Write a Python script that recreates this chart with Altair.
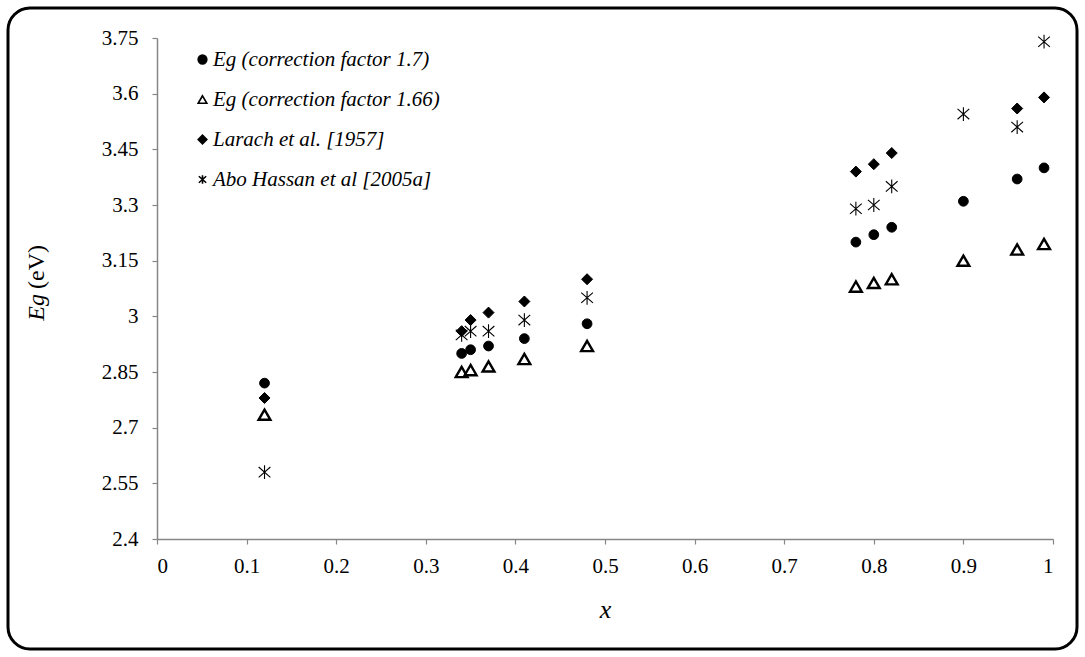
import altair as alt
import pandas as pd

# ---- data ----
series_names = [
    "Eg (correction factor 1.7)",
    "Eg (correction factor 1.66)",
    "Larach et al. [1957]",
    "Abo Hassan et al [2005a]",
]

x_eg17 = [0.12, 0.34, 0.35, 0.37, 0.41, 0.48, 0.78, 0.80, 0.82, 0.90, 0.96, 0.99]
y_eg17 = [2.82, 2.90, 2.91, 2.92, 2.94, 2.98, 3.20, 3.22, 3.24, 3.31, 3.37, 3.40]

x_eg166 = [0.12, 0.34, 0.35, 0.37, 0.41, 0.48, 0.78, 0.80, 0.82, 0.90, 0.96, 0.99]
y_eg166 = [2.735, 2.85, 2.855, 2.865, 2.885, 2.92, 3.08, 3.09, 3.10, 3.15, 3.18, 3.195]

x_larach = [0.12, 0.34, 0.35, 0.37, 0.41, 0.48, 0.78, 0.80, 0.82, 0.96, 0.99]
y_larach = [2.78, 2.96, 2.99, 3.01, 3.04, 3.10, 3.39, 3.41, 3.44, 3.56, 3.59]

x_abo = [0.12, 0.34, 0.35, 0.37, 0.41, 0.48, 0.78, 0.80, 0.82, 0.90, 0.96, 0.99]
y_abo = [2.58, 2.95, 2.96, 2.96, 2.99, 3.05, 3.29, 3.30, 3.35, 3.545, 3.51, 3.74]

x_ticks = [0, 0.1, 0.2, 0.3, 0.4, 0.5, 0.6, 0.7, 0.8, 0.9, 1]
y_ticks = [2.4, 2.55, 2.7, 2.85, 3, 3.15, 3.3, 3.45, 3.6, 3.75]

# ---- marker styles ----
asterisk = "M0,-1L0,1M-0.85,-0.75L0.85,0.75M-0.85,0.75L0.85,-0.75"
shapes = ["circle", "triangle-up", "diamond", asterisk]
fills = ["black", "white", "black", "transparent"]
strokes = ["black", "black", "black", "black"]
stroke_widths = [1, 2.4, 1, 1.1]
sizes = [95, 140, 121, 190]

rows = []
for i, (xs, ys) in enumerate([(x_eg17, y_eg17), (x_eg166, y_eg166),
                              (x_larach, y_larach), (x_abo, y_abo)]):
    for xv, yv in zip(xs, ys):
        rows.append({"x": xv, "eg": yv, "series": series_names[i],
                     "sw": stroke_widths[i], "sz": sizes[i]})
df = pd.DataFrame(rows)

FONT = "Liberation Serif, Times New Roman, Times, serif"
W, H = 896, 501
PL, PT = 157, 38
GRAY = "#868686"

axis_common = dict(labelFont=FONT, labelFontSize=21, labelColor="black",
                   domainColor=GRAY, domainWidth=1.5, tickColor=GRAY, tickWidth=1.2,
                   tickSize=5, grid=False)

legend_kw = dict(title=None, orient="none", legendX=35, legendY=11,
                 labelFont=FONT, labelFontSize=21, labelFontStyle="italic",
                 labelColor="black", symbolSize=75, symbolStrokeColor="black",
                 symbolStrokeWidth=1.6, rowPadding=18, labelOffset=0, labelLimit=400)

points = alt.Chart(df).mark_point(opacity=1, strokeOpacity=1, fillOpacity=1).encode(
    x=alt.X("x:Q", scale=alt.Scale(domain=[0, 1], nice=False, zero=False),
            axis=alt.Axis(values=x_ticks, format=".4~g", title="x",
                          titleFont=FONT, titleFontStyle="italic", titleFontWeight="normal",
                          titleFontSize=26, titleColor="black", titlePadding=20,
                          labelPadding=11, **axis_common)),
    y=alt.Y("eg:Q", scale=alt.Scale(domain=[2.4, 3.75], nice=False, zero=False),
            axis=alt.Axis(values=y_ticks, format=".4~g", title=None, labelPadding=14,
                          **axis_common)),
    shape=alt.Shape("series:N", scale=alt.Scale(domain=series_names, range=shapes),
                    legend=alt.Legend(**legend_kw)),
    fill=alt.Fill("series:N", scale=alt.Scale(domain=series_names, range=fills),
                  legend=alt.Legend(**legend_kw)),
    stroke=alt.Stroke("series:N", scale=alt.Scale(domain=series_names, range=strokes),
                      legend=alt.Legend(**legend_kw)),
    strokeWidth=alt.StrokeWidth("sw:Q", scale=None),
    size=alt.Size("sz:Q", scale=None),
)

one = pd.DataFrame({"k": [0]})

border = alt.Chart(one).mark_rect(fill="transparent", stroke="black", strokeWidth=3,
                                  cornerRadius=22).encode(
    x=alt.value(8 - PL), x2=alt.value(1077 - PL),
    y=alt.value(8 - PT), y2=alt.value(649 - PT),
)

ytitle_eg = alt.Chart(one).mark_text(font=FONT, fontSize=24, fontStyle="italic",
                                     angle=270, align="right", baseline="middle",
                                     color="black").encode(
    x=alt.value(37 - PL), y=alt.value(294 - PT), text=alt.value("Eg"))
ytitle_ev = alt.Chart(one).mark_text(font=FONT, fontSize=24, fontStyle="normal",
                                     angle=270, align="left", baseline="middle",
                                     color="black").encode(
    x=alt.value(37 - PL), y=alt.value(289 - PT), text=alt.value("(eV)"))

chart = alt.layer(border, points, ytitle_eg, ytitle_ev).properties(
    width=W, height=H,
    autosize=alt.AutoSizeParams(type="none"),
    padding={"left": PL, "top": PT, "right": 1085 - PL - W, "bottom": 657 - PT - H},
    background="white",
).configure_view(stroke=None).configure_axis(**axis_common).configure_legend(
    labelFont=FONT, labelFontSize=21, labelFontStyle="italic", labelColor="black",
)

chart.save("out.html", embed_options={"renderer": "svg", "actions": False})
